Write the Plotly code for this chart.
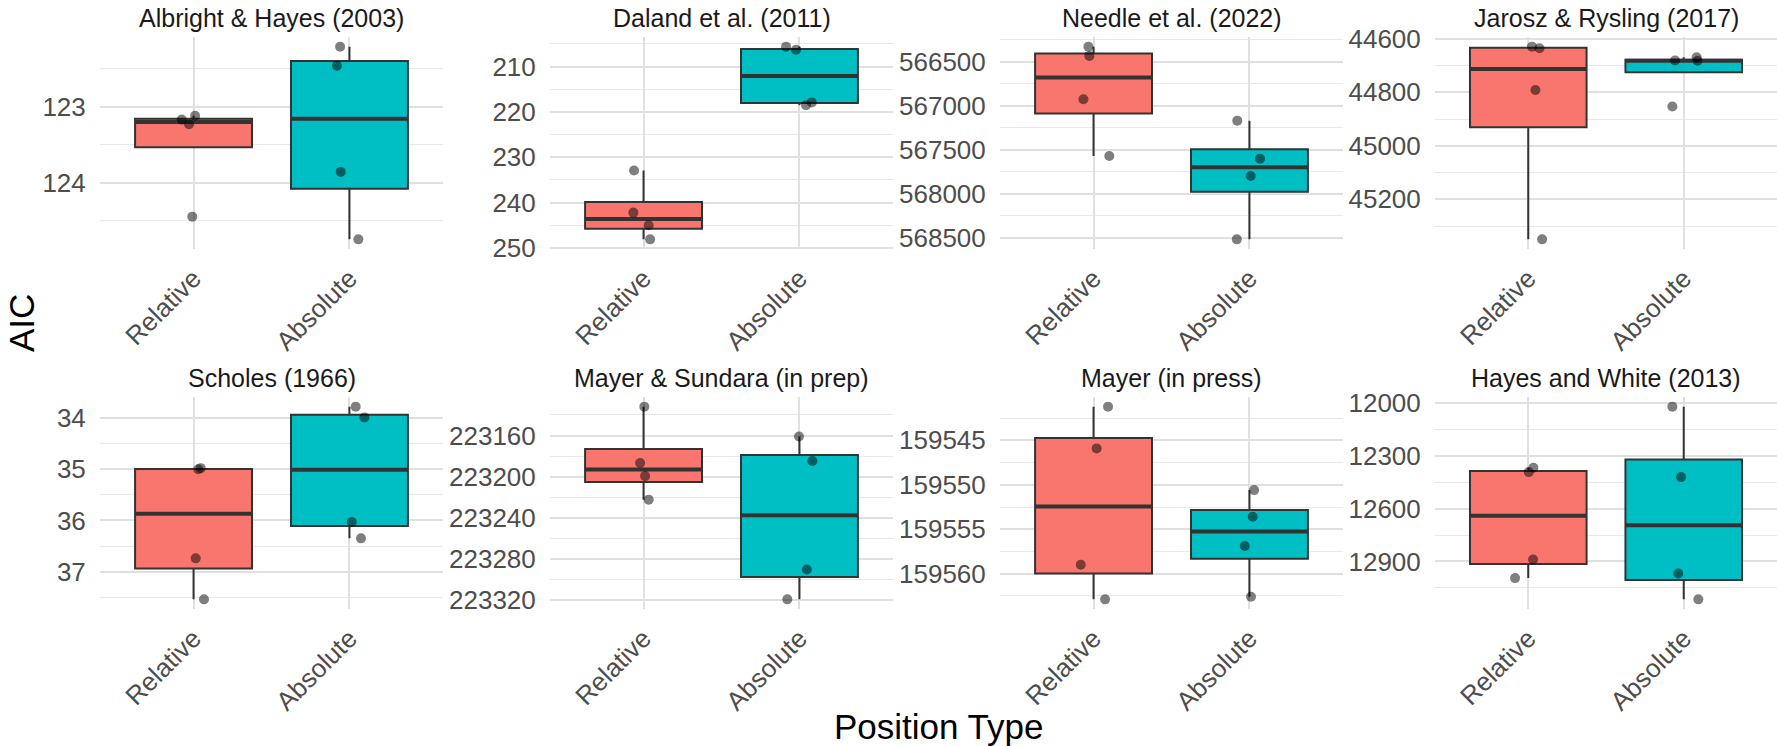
import numpy as np
import plotly.graph_objects as go

W, H = 1777, 746

studies = ["Albright & Hayes (2003)", "Daland et al. (2011)", "Needle et al. (2022)",
           "Jarosz & Rysling (2017)", "Scholes (1966)", "Mayer & Sundara (in prep)",
           "Mayer (in press)", "Hayes and White (2013)"]
position_types = ["Relative", "Absolute"]

relative_aic = [
    [123.17, 123.12, 123.23, 124.45],
    [232.9, 242.2, 245.0, 248.1],
    [566330, 566435, 566927, 567570],
    [44629, 44635, 44791, 45350],
    [34.98, 35.0, 36.74, 37.54],
    [223131.9, 223186.8, 223199.5, 223222.4],
    [159541.2, 159545.9, 159559.0, 159562.9],
    [12367.9, 12392.6, 12888.5, 12994.3],
]
relative_jitter = [
    [-0.076, 0.01, -0.029, -0.008],
    [-0.061, -0.065, 0.033, 0.042],
    [-0.033, -0.027, -0.065, 0.101],
    [0.024, 0.072, 0.046, 0.089],
    [0.046, 0.03, 0.014, 0.067],
    [0.005, -0.022, 0.01, 0.033],
    [0.093, 0.02, -0.082, 0.074],
    [0.033, 0.003, 0.031, -0.085],
]
absolute_aic = [
    [122.207, 122.46, 123.86, 124.75],
    [205.6, 206.3, 218.5, 217.9],
    [567169, 567600, 567797, 568515],
    [44681, 44669, 44682, 44853],
    [33.78, 33.99, 36.03, 36.35],
    [223161, 223184.8, 223290.3, 223319.4],
    [159550.6, 159553.6, 159556.9, 159562.6],
    [12021, 12421, 12968, 13115],
]
absolute_jitter = [
    [-0.06, -0.08, -0.056, 0.057],
    [-0.086, -0.022, 0.042, 0.079],
    [-0.078, 0.068, 0.008, -0.081],
    [-0.056, 0.083, 0.089, -0.073],
    [0.04, 0.096, 0.015, 0.074],
    [-0.003, 0.083, 0.047, -0.078],
    [0.03, 0.021, -0.03, 0.01],
    [-0.073, -0.017, -0.035, 0.094],
]
major_step = [1, 10, 500, 200, 1, 40, 5, 300]

fills = ["#F8766D", "#00BFC4"]
BOXW = 0.75
FONT = "Liberation Sans, Arial, sans-serif"

# panel geometry (screen pixels)
col_px = [(100, 443), (550, 893), (1000, 1343), (1435, 1777)]
row_px = [(37, 249), (397, 609)]


def fx(px):
    return min(max(px / W, 0.0), 1.0)


def fy(px):
    return min(max(1 - px / H, 0.0), 1.0)


def box_stats(v):
    v = np.sort(np.asarray(v, float))
    q1, med, q3 = np.percentile(v, [25, 50, 75])
    iqr = q3 - q1
    lo = v[v >= q1 - 1.5 * iqr].min()
    hi = v[v <= q3 + 1.5 * iqr].max()
    return q1, med, q3, min(lo, q1), max(hi, q3)


fig = go.Figure()
layout = dict(width=W, height=H, margin=dict(l=0, r=0, t=0, b=0, autoexpand=False),
              plot_bgcolor="white", paper_bgcolor="white", showlegend=False,
              font=dict(family=FONT, color="#4D4D4D"))
annotations = []

for i, name in enumerate(studies):
    r, c = divmod(i, 4)
    x0, x1 = col_px[c]
    y0, y1 = row_px[r]
    sfx = "" if i == 0 else str(i + 1)
    xa, ya = "x" + sfx, "y" + sfx
    groups = [(relative_aic[i], relative_jitter[i]), (absolute_aic[i], absolute_jitter[i])]
    allv = np.array(relative_aic[i] + absolute_aic[i], float)
    span = allv.max() - allv.min()
    lo_r, hi_r = allv.min() - 0.05 * span, allv.max() + 0.05 * span

    for k, (vals, jit) in enumerate(groups):
        q1, med, q3, lf, uf = box_stats(vals)
        pos = k + 1
        fig.add_trace(go.Box(x=[pos], q1=[q1], median=[med], q3=[q3], lowerfence=[lf], upperfence=[uf],
                             width=BOXW, whiskerwidth=0, boxpoints=False,
                             fillcolor=fills[k], line=dict(color="#333333", width=2),
                             xaxis=xa, yaxis=ya, hoverinfo="skip"))
        fig.add_trace(go.Scatter(x=[pos - BOXW / 2, pos + BOXW / 2], y=[med, med], mode="lines",
                                 line=dict(color="#333333", width=4), xaxis=xa, yaxis=ya,
                                 hoverinfo="skip"))
    for k, (vals, jit) in enumerate(groups):
        pos = k + 1
        fig.add_trace(go.Scatter(x=[pos + j for j in jit], y=vals, mode="markers",
                                 marker=dict(color="rgba(0,0,0,0.5)", size=10, line=dict(width=0)),
                                 xaxis=xa, yaxis=ya, hoverinfo="skip"))

    step = major_step[i]
    layout["xaxis" + sfx] = dict(domain=[fx(x0), fx(x1)], anchor=ya, range=[0.4, 2.6],
                                 tickmode="array", tickvals=[1, 2], ticktext=position_types,
                                 tickangle=-45, tickfont=dict(size=26, color="#4D4D4D", family=FONT),
                                 showgrid=True, gridcolor="#E0E0E0", gridwidth=2, zeroline=False,
                                 showline=False, ticks="outside", ticklen=3, tickcolor="rgba(0,0,0,0)",
                                 automargin=False, fixedrange=True)
    layout["yaxis" + sfx] = dict(domain=[fy(y1), fy(y0)], anchor=xa, range=[hi_r, lo_r],
                                 tickmode="linear", tick0=0, dtick=step, tickformat="d",
                                 tickfont=dict(size=26, color="#4D4D4D", family=FONT),
                                 showgrid=True, gridcolor="#E0E0E0", gridwidth=2, zeroline=False,
                                 showline=False, ticks="outside", ticklen=8, tickcolor="rgba(0,0,0,0)",
                                 minor=dict(dtick=step / 2, tick0=0, showgrid=True,
                                            gridcolor="#E8E8E8", gridwidth=1),
                                 automargin=False, fixedrange=True)
    annotations.append(dict(text=name, x=fx((x0 + x1) / 2), y=fy(y0 - 3),
                            xref="paper", yref="paper", xanchor="center", yanchor="bottom",
                            showarrow=False, font=dict(size=25, color="#1A1A1A", family=FONT)))

annotations.append(dict(text="AIC", x=fx(22), y=fy(323), xref="paper", yref="paper",
                        xanchor="center", yanchor="middle", textangle=-90, showarrow=False,
                        font=dict(size=35, color="black", family=FONT)))
annotations.append(dict(text="Position Type", x=fx(939), y=fy(726), xref="paper", yref="paper",
                        xanchor="center", yanchor="middle", showarrow=False,
                        font=dict(size=35, color="black", family=FONT)))
layout["annotations"] = annotations
fig.update_layout(**layout)
fig.write_html("out.html", config={"displayModeBar": False, "staticPlot": True},
               post_script="document.body.style.margin='0';document.body.style.overflow='hidden';")
